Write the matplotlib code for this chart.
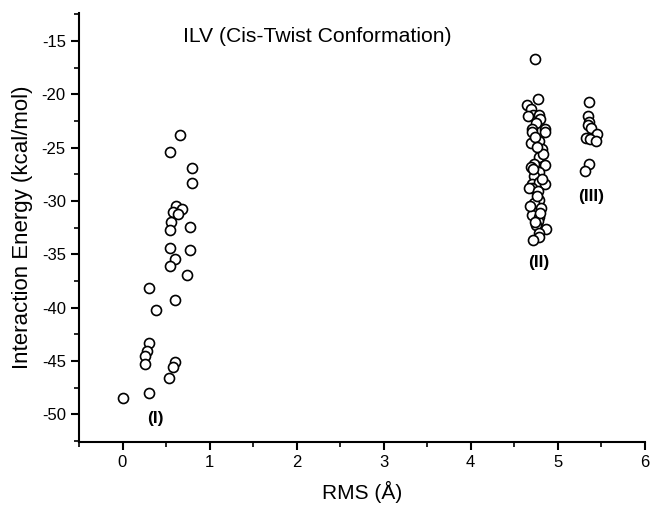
import matplotlib
matplotlib.use("Agg")
import matplotlib.pyplot as plt
from matplotlib.ticker import MultipleLocator

plt.rcParams['font.family'] = ['Liberation Sans', 'DejaVu Sans']
plt.rcParams['axes.unicode_minus'] = False

# cluster (I): low RMS, strong binding
rms_1 = [0.66, 0.55, 0.80, 0.80, 0.62, 0.68, 0.58, 0.64, 0.56, 0.55, 0.78, 0.55,
         0.77, 0.60, 0.54, 0.74, 0.30, 0.60, 0.38, 0.31, 0.28, 0.26, 0.26, 0.60,
         0.58, 0.53, 0.30, 0.00]
energy_1 = [-23.8, -25.4, -26.9, -28.3, -30.5, -30.8, -31.0, -31.2, -31.95, -32.7, -32.4, -34.4,
            -34.6, -35.4, -36.1, -36.9, -38.2, -39.3, -40.2, -43.3, -44.1, -44.5, -45.3, -45.1,
            -45.6, -46.6, -48.05, -48.5]

# cluster (II)
rms_2 = [4.74, 4.77, 4.65, 4.69, 4.71, 4.79, 4.80, 4.75, 4.70, 4.85, 4.70, 4.85,
         4.79, 4.69, 4.82, 4.79, 4.73, 4.85, 4.69, 4.79, 4.73, 4.70, 4.79, 4.85,
         4.70, 4.67, 4.77, 4.79, 4.73, 4.81, 4.70, 4.79, 4.77, 4.75, 4.86, 4.79,
         4.79, 4.66, 4.74, 4.83, 4.72, 4.76, 4.68, 4.80, 4.74, 4.71, 4.82, 4.76]
energy_2 = [-16.7, -20.4, -21.0, -21.4, -21.9, -21.9, -22.3, -22.7, -23.3, -23.3, -23.5, -23.5,
            -24.4, -24.6, -25.1, -25.9, -26.5, -26.6, -26.8, -27.3, -27.7, -28.4, -28.2, -28.4,
            -28.8, -28.8, -29.1, -29.9, -30.2, -30.7, -31.3, -31.5, -31.9, -32.3, -32.6, -33.0,
            -33.4, -22.0, -24.0, -25.6, -27.0, -29.5, -30.5, -31.1, -32.0, -33.7, -27.9, -24.9]

# cluster (III)
rms_3 = [5.36, 5.35, 5.36, 5.35, 5.38, 5.45, 5.32, 5.37, 5.44, 5.36, 5.31]
energy_3 = [-20.7, -22.0, -22.6, -22.9, -23.2, -23.7, -24.1, -24.2, -24.35, -26.5, -27.2]

cluster_labels = ['(I)', '(II)', '(III)']
label_x = [0.38, 4.78, 5.38]
label_y = [-50.4, -35.8, -29.6]

fig = plt.figure(figsize=(6.5, 5.08), dpi=100)
ax = fig.add_axes([0.1215, 0.13, 0.8705, 0.844])

for xs, ys in [(rms_1, energy_1), (rms_2, energy_2), (rms_3, energy_3)]:
    ax.plot(xs, ys, linestyle='none', marker='o', markersize=7.2,
            markerfacecolor='white', markeredgecolor='black', markeredgewidth=1.2)

for lab, lx, ly in zip(cluster_labels, label_x, label_y):
    ax.text(lx, ly, lab, ha='center', va='center', fontsize=12.5, fontweight='bold')

ax.text(0.70, -14.6, 'ILV (Cis-Twist Conformation)', ha='left', va='center', fontsize=15.2)

ax.set_xlim(-0.5, 6.0)
ax.set_ylim(-52.6, -12.4)
ax.xaxis.set_major_locator(MultipleLocator(1))
ax.xaxis.set_minor_locator(MultipleLocator(0.5))
ax.yaxis.set_major_locator(MultipleLocator(5))
ax.yaxis.set_minor_locator(MultipleLocator(2.5))
ax.set_yticks(range(-50, -14, 5))

for side in ['top', 'right']:
    ax.spines[side].set_visible(False)
for side in ['left', 'bottom']:
    ax.spines[side].set_linewidth(1.5)

ax.tick_params(which='major', direction='out', length=6, width=1.5, labelsize=12)
ax.tick_params(which='minor', direction='out', length=3.5, width=1.2)

ax.set_xlabel('RMS (Å)', fontsize=15, labelpad=8)
ax.set_ylabel('Interaction Energy (kcal/mol)', fontsize=16, labelpad=6)

fig.savefig('out.png', dpi=100)
